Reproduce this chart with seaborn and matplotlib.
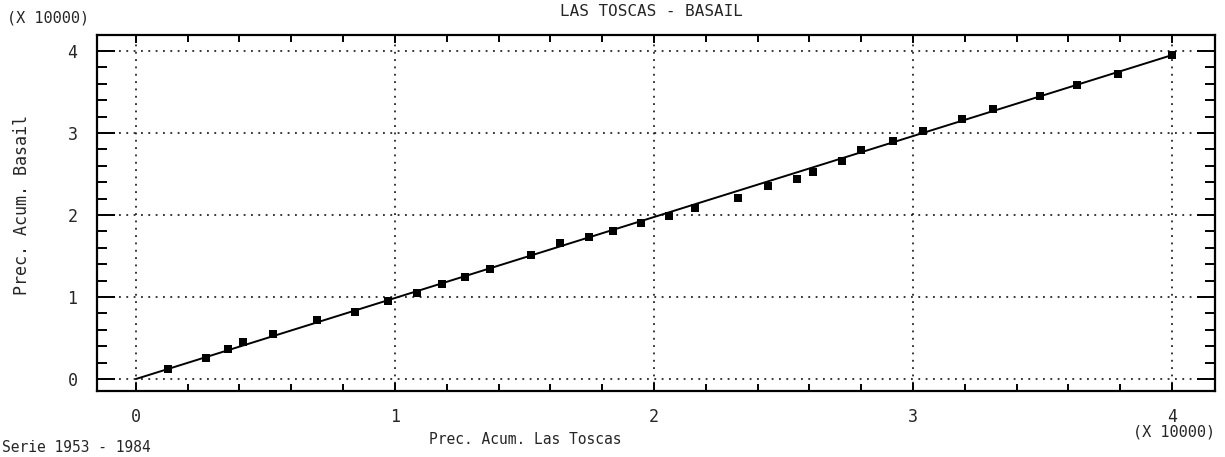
import matplotlib
matplotlib.use("Agg")
import matplotlib.pyplot as plt
from matplotlib.ticker import MultipleLocator
import seaborn as sns
import pandas as pd

# Data (in units of 10000)
cum_las_toscas = [0.125, 0.270, 0.354, 0.412, 0.530, 0.698, 0.846, 0.974, 1.084, 1.180,
                  1.270, 1.367, 1.524, 1.637, 1.750, 1.843, 1.952, 2.059, 2.158, 2.325,
                  2.441, 2.553, 2.615, 2.725, 2.800, 2.924, 3.040, 3.188, 3.310, 3.490,
                  3.634, 3.790, 4.000]
cum_basail = [0.122, 0.260, 0.363, 0.456, 0.550, 0.720, 0.820, 0.957, 1.055, 1.157,
              1.250, 1.345, 1.516, 1.660, 1.730, 1.800, 1.900, 1.990, 2.090, 2.210,
              2.350, 2.440, 2.530, 2.660, 2.790, 2.900, 3.020, 3.170, 3.290, 3.450,
              3.590, 3.720, 3.950]
fit_x = [0.0, 4.0]
fit_y = [0.0, 3.95]
x_ticks = [0, 1, 2, 3, 4]
y_ticks = [0, 1, 2, 3, 4]

title = "LAS TOSCAS - BASAIL"
x_label = "Prec. Acum. Las Toscas"
y_label = "Prec. Acum. Basail"
scale_text = "(X 10000)"
series_text = "Serie 1953 - 1984"

sns.set_style("white")
plt.rcParams['font.family'] = ['DejaVu Sans Mono', 'DejaVu Sans']

df = pd.DataFrame({"x": cum_las_toscas, "y": cum_basail})
dfl = pd.DataFrame({"x": fit_x, "y": fit_y})

fig = plt.figure(figsize=(12.25, 4.57), dpi=100)
ax = fig.add_axes([97/1225, (457-391)/457, (1215-97)/1225, (391-35)/457])

sns.lineplot(data=dfl, x="x", y="y", ax=ax, color="black", lw=1.4)
sns.scatterplot(data=df, x="x", y="y", ax=ax, marker="s", s=26,
                color="black", edgecolor="black", linewidth=0, zorder=3)

ax.set_xlim(-0.15, 4.166)
ax.set_ylim(-0.146, 4.195)
ax.set_xticks(x_ticks)
ax.set_yticks(y_ticks)
ax.set_xticklabels([str(t) for t in x_ticks])
ax.set_yticklabels([str(t) for t in y_ticks])
ax.xaxis.set_minor_locator(MultipleLocator(0.2))
ax.yaxis.set_minor_locator(MultipleLocator(0.2))

ax.grid(True, which="major", color="black", linestyle=(0, (1.2, 3.6)), lw=1.1)
for s in ax.spines.values():
    s.set_linewidth(1.6)
    s.set_color("black")
    s.set_visible(True)

ax.tick_params(which="both", direction="in", top=True, right=True,
               bottom=True, left=True, color="black", width=1.4, labelsize=12)
ax.xaxis.set_tick_params(which="major", length=6, pad=12)
ax.xaxis.set_tick_params(which="minor", length=5)
ax.yaxis.set_tick_params(which="major", length=13, pad=14)
ax.yaxis.set_tick_params(which="minor", length=7)

ax.set_xlabel("")
ax.set_ylabel("")

fig.text(651/1225, 1 - 11/457, title, ha="center", va="center", fontsize=11.5)
fig.text(7/1225, 1 - 18/457, scale_text, ha="left", va="center", fontsize=11)
fig.text(1215/1225, 1 - 432/457, scale_text, ha="right", va="center", fontsize=11)
fig.text(525/1225, 1 - 440/457, x_label, ha="center", va="center", fontsize=10.5)
fig.text(22/1225, 1 - 205/457, y_label, ha="center", va="center", rotation=90, fontsize=12)
fig.text(2/1225, 1 - 448/457, series_text, ha="left", va="center", fontsize=10.5)

fig.savefig("out.png", dpi=100, facecolor="white")
